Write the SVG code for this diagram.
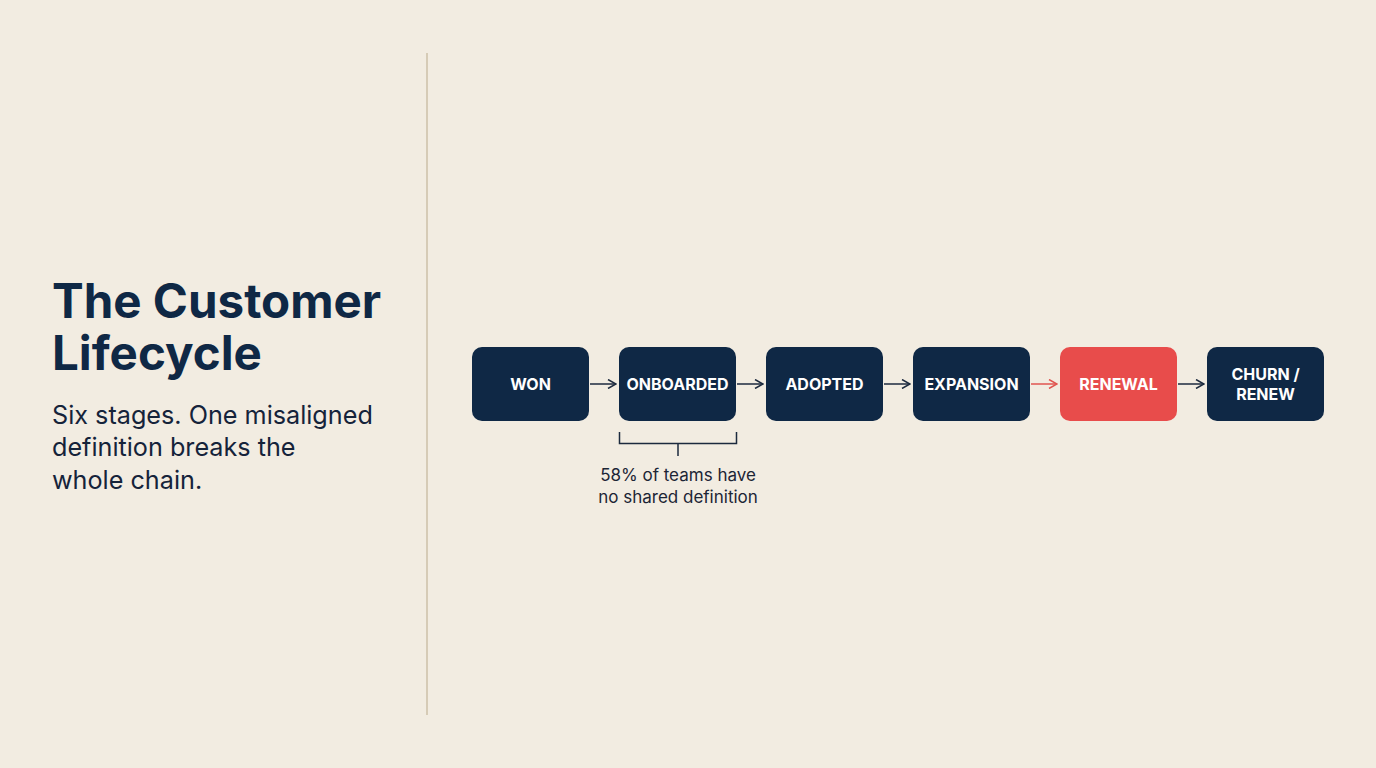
<svg xmlns="http://www.w3.org/2000/svg" width="1376" height="768" viewBox="0 0 1376 768">
<defs>
<style>
.node rect{fill:#0f2845}
.node.hl rect{fill:#e84c4b}
.nl{font-family:Inter,"Liberation Sans",sans-serif;font-weight:700;font-size:16px;fill:#ffffff;text-anchor:middle}
.conn line{stroke:#1c2a3e;stroke-width:1.5}
.conn line.red{stroke:#e0544f}
.title{font-family:Inter,"Liberation Sans",sans-serif;font-weight:700;font-size:47.5px;fill:#0f2845}
.sub{font-family:Inter,"Liberation Sans",sans-serif;font-size:25.2px;fill:#15233a}
.note{font-family:Inter,"Liberation Sans",sans-serif;font-size:17px;fill:#1c2535;text-anchor:middle}
</style>
<marker id="ah" viewBox="0 0 10 10" refX="9" refY="5" markerWidth="10" markerHeight="10" markerUnits="userSpaceOnUse" orient="auto"><path d="M1,0.5 L9,5 L1,9.5" fill="none" stroke="#1c2a3e" stroke-width="1.5"/></marker>
<marker id="ahr" viewBox="0 0 10 10" refX="9" refY="5" markerWidth="10" markerHeight="10" markerUnits="userSpaceOnUse" orient="auto"><path d="M1,0.5 L9,5 L1,9.5" fill="none" stroke="#e0544f" stroke-width="1.5"/></marker>
</defs>
<rect width="1376" height="768" fill="#f2ece1"/>
<line x1="427" y1="53" x2="427" y2="715" stroke="#d6cbb6" stroke-width="2"/>
<g id="title">
<text class="title" x="52" y="318">The Customer</text>
<text class="title" x="52" y="370">Lifecycle</text>
<text class="sub" x="52" y="424">Six stages. One misaligned</text>
<text class="sub" x="52" y="456">definition breaks the</text>
<text class="sub" x="52" y="489">whole chain.</text>
</g>
<g id="connectors" class="conn">
<line x1="590" y1="384" x2="616" y2="384" marker-end="url(#ah)"/>
<line x1="737" y1="384" x2="763" y2="384" marker-end="url(#ah)"/>
<line x1="884" y1="384" x2="910" y2="384" marker-end="url(#ah)"/>
<line class="red" x1="1031" y1="384" x2="1057" y2="384" marker-end="url(#ahr)"/>
<line x1="1178" y1="384" x2="1204" y2="384" marker-end="url(#ah)"/>
</g>
<g id="n-won" class="node"><rect x="472" y="347" width="117" height="74" rx="10"/><text class="nl" x="530.5" y="389.5">WON</text></g>
<g id="n-onboarded" class="node"><rect x="619" y="347" width="117" height="74" rx="10"/><text class="nl" x="677.5" y="389.5">ONBOARDED</text></g>
<g id="n-adopted" class="node"><rect x="766" y="347" width="117" height="74" rx="10"/><text class="nl" x="824.5" y="389.5">ADOPTED</text></g>
<g id="n-expansion" class="node"><rect x="913" y="347" width="117" height="74" rx="10"/><text class="nl" x="971.5" y="389.5">EXPANSION</text></g>
<g id="n-renewal" class="node hl"><rect x="1060" y="347" width="117" height="74" rx="10"/><text class="nl" x="1118.5" y="389.5">RENEWAL</text></g>
<g id="n-churn" class="node"><rect x="1207" y="347" width="117" height="74" rx="10"/><text class="nl" x="1265.5" y="379.5">CHURN /</text><text class="nl" x="1265.5" y="399.5">RENEW</text></g>
<g id="note">
<path d="M619.5,432 V443.5 H736.5 V432 M678,443.5 V456" fill="none" stroke="#1c2a3e" stroke-width="1.5"/>
<text class="note" x="678" y="481">58% of teams have</text>
<text class="note" x="678" y="503">no shared definition</text>
</g>
</svg>
